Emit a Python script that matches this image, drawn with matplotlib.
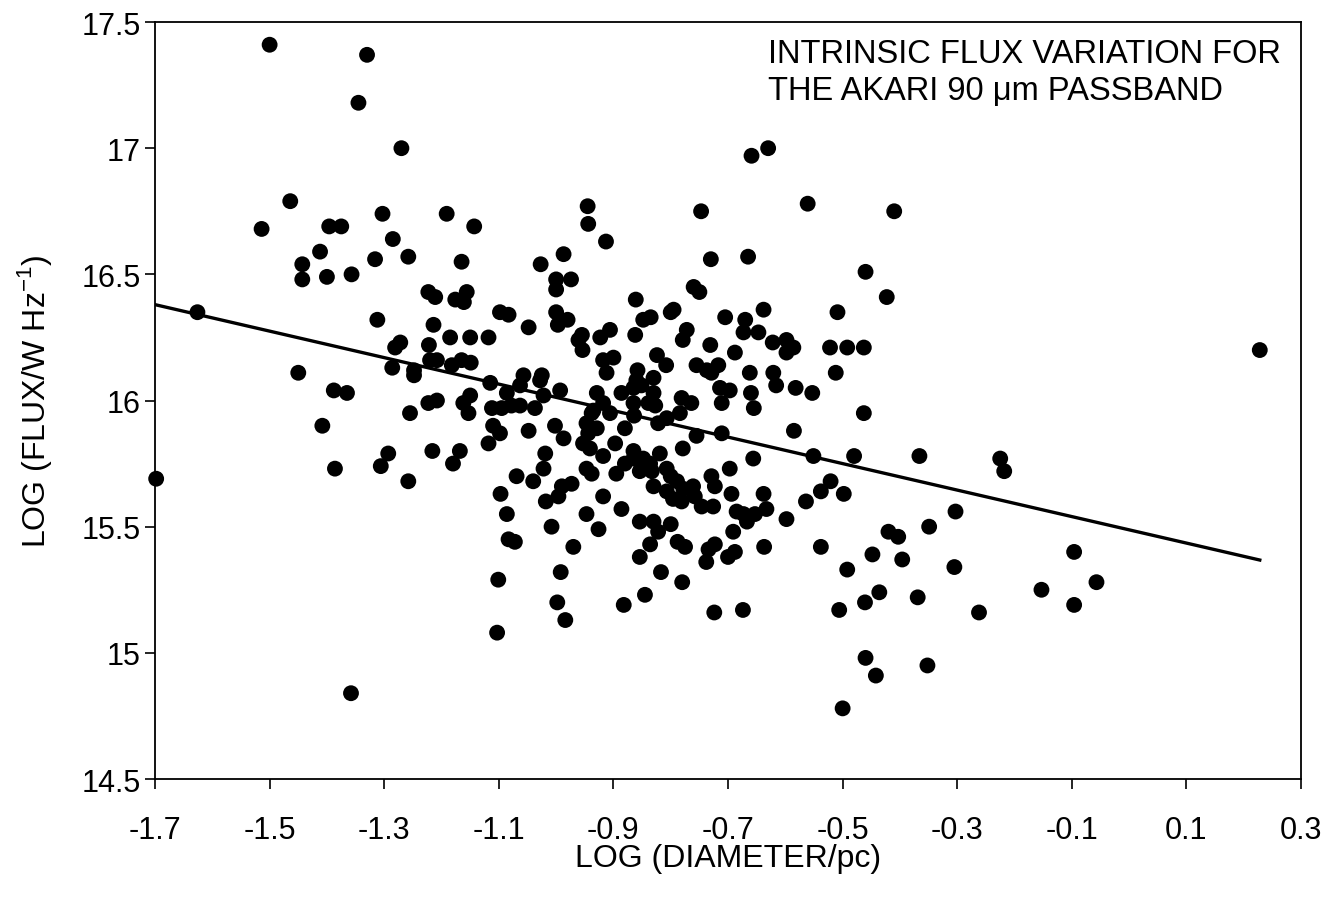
import numpy as np
import matplotlib
matplotlib.use("Agg")
import matplotlib.pyplot as plt

plt.rcParams['font.family'] = ['Liberation Sans', 'DejaVu Sans']

# log diameter (pc) and log intrinsic flux (W Hz^-1) for each source
log_diameter = [
    -1.500, -1.330, -1.345, -1.270, -1.464, -1.514, -1.396, -1.375, -1.303, -1.285,
    -1.412, -1.316, -1.258, -1.443, -1.443, -1.400, -1.357,
    -1.191, -1.143, -1.165, -0.945, -0.944, -0.913, -0.987, -1.027, -0.747, -0.730,
    -0.659, -0.630, -0.561, -0.410, -0.665, -0.460,
    0.228, -1.358,
    -1.101, -1.103, -0.992, -0.998, -0.984, -0.970, -1.072, -1.083, -0.882, -0.845,
    -0.854, -0.836, -0.817, -0.780, -0.788, -0.775, -0.734, -0.723, -0.738, -0.700,
    -0.688, -0.724, -0.674,
    -0.637, -0.538, -0.448, -0.396, -0.492, -0.305, -0.506, -0.461, -0.436, -0.369,
    -0.262, -0.460, -0.442, -0.352, -0.500,
    -0.153, -0.096, -0.057, -0.096,
    -1.698, -1.626, -1.312, -1.272, -1.281, -1.450, -1.286, -1.248, -1.248, -1.222,
    -1.214, -1.223, -1.211, -1.220, -1.208, -1.388, -1.365, -1.408, -1.255, -1.223,
    -1.208, -1.293, -1.306, -1.386, -1.258, -1.216,
    -0.423, -0.638, -0.509, -0.670, -0.673, -0.647, -0.622, -0.598, -0.586, -0.598,
    -0.522, -0.492, -0.463, -0.662, -0.621, -0.616, -0.582, -0.553, -0.512, -0.660,
    -0.655, -0.463, -0.585, -0.656, -0.551, -0.480, -0.366, -0.225, -0.218, -0.521,
    -0.538, -0.498, -0.564, -0.638, -0.633, -0.653, -0.673, -0.667, -0.598, -0.303,
    -0.349, -0.420, -0.403,
    -1.000, -1.000, -0.974, -0.760, -0.750, -0.861, -1.176, -1.156, -1.161, -1.098,
    -1.083, -1.000, -0.997, -0.980, -1.048, -0.848, -0.835, -0.800, -0.795, -0.705,
    -1.185, -1.150, -1.118, -0.955, -0.961, -0.954, -0.923, -0.906, -0.862, -0.772,
    -0.779, -0.731, -0.688, -1.182, -1.165, -1.149, -0.918, -0.900, -0.912, -0.824,
    -0.808, -0.755, -0.737, -0.717, -0.729, -0.858, -0.860, -0.830, -1.115, -1.057,
    -1.063, -1.025, -1.028, -1.022, -0.993, -1.086, -0.929, -0.935, -0.918, -0.886,
    -0.865, -0.851, -0.865, -0.830, -0.827, -0.839, -0.781, -0.764, -0.714, -0.697,
    -0.711, -1.150, -1.162, -1.153, -1.112, -1.095, -1.078, -1.063, -1.037, -0.906,
    -0.947, -0.938, -0.880, -0.864, -0.822, -0.807, -0.784, -0.755, -0.711, -1.110,
    -1.098, -1.118, -1.048, -1.002, -0.987, -0.944, -0.953, -0.941, -0.929, -0.897,
    -0.918, -1.019, -1.022, -1.168, -1.180, -1.069, -1.040, -0.947, -0.938, -0.895,
    -0.865, -0.865, -0.880, -0.848, -0.836, -0.819, -0.854, -0.833, -0.807, -0.800,
    -0.789, -0.778, -0.761, -0.807, -0.796, -0.781, -0.830, -0.779, -0.729, -0.723,
    -0.697, -0.694, -0.758, -0.746, -0.726, -0.918, -0.886, -0.947, -0.854, -0.830,
    -0.822, -0.800, -0.990, -0.973, -0.996, -1.018, -1.097, -1.086, -1.008, -0.926,
    -0.685, -0.691,
]

log_flux = [
    17.41, 17.37, 17.18, 17.00, 16.79, 16.68, 16.69, 16.69, 16.74, 16.64,
    16.59, 16.56, 16.57, 16.54, 16.48, 16.49, 16.50,
    16.74, 16.69, 16.55, 16.77, 16.70, 16.63, 16.58, 16.54, 16.75, 16.56,
    16.97, 17.00, 16.78, 16.75, 16.57, 16.51,
    16.20, 14.84,
    15.29, 15.08, 15.32, 15.20, 15.13, 15.42, 15.44, 15.45, 15.19, 15.23,
    15.38, 15.43, 15.32, 15.28, 15.44, 15.42, 15.41, 15.43, 15.36, 15.38,
    15.40, 15.16, 15.17,
    15.42, 15.42, 15.39, 15.37, 15.33, 15.34, 15.17, 15.20, 15.24, 15.22,
    15.16, 14.98, 14.91, 14.95, 14.78,
    15.25, 15.40, 15.28, 15.19,
    15.69, 16.35, 16.32, 16.23, 16.21, 16.11, 16.13, 16.12, 16.10, 16.22,
    16.30, 16.43, 16.41, 16.16, 16.16, 16.04, 16.03, 15.90, 15.95, 15.99,
    16.00, 15.79, 15.74, 15.73, 15.68, 15.80,
    16.41, 16.36, 16.35, 16.32, 16.27, 16.27, 16.23, 16.24, 16.21, 16.19,
    16.21, 16.21, 16.21, 16.11, 16.11, 16.06, 16.05, 16.03, 16.11, 16.03,
    15.97, 15.95, 15.88, 15.77, 15.78, 15.78, 15.78, 15.77, 15.72, 15.68,
    15.64, 15.63, 15.60, 15.63, 15.57, 15.55, 15.55, 15.52, 15.53, 15.56,
    15.50, 15.48, 15.46,
    16.48, 16.44, 16.48, 16.45, 16.43, 16.40, 16.40, 16.43, 16.39, 16.35,
    16.34, 16.35, 16.30, 16.32, 16.29, 16.32, 16.33, 16.35, 16.36, 16.33,
    16.25, 16.25, 16.25, 16.26, 16.24, 16.20, 16.25, 16.28, 16.26, 16.28,
    16.24, 16.22, 16.19, 16.14, 16.16, 16.15, 16.16, 16.17, 16.11, 16.18,
    16.14, 16.14, 16.12, 16.14, 16.11, 16.12, 16.08, 16.09, 16.07, 16.10,
    16.06, 16.10, 16.08, 16.02, 16.04, 16.03, 16.03, 15.96, 15.99, 16.03,
    16.05, 16.06, 15.99, 16.03, 15.98, 15.99, 16.01, 15.99, 16.05, 16.04,
    15.99, 16.02, 15.99, 15.95, 15.97, 15.97, 15.98, 15.98, 15.97, 15.95,
    15.91, 15.95, 15.89, 15.94, 15.91, 15.93, 15.95, 15.86, 15.87, 15.90,
    15.87, 15.83, 15.88, 15.90, 15.85, 15.87, 15.83, 15.81, 15.89, 15.83,
    15.78, 15.79, 15.73, 15.80, 15.75, 15.70, 15.68, 15.73, 15.71, 15.71,
    15.80, 15.77, 15.75, 15.77, 15.75, 15.79, 15.72, 15.72, 15.73, 15.70,
    15.68, 15.65, 15.66, 15.64, 15.61, 15.60, 15.66, 15.81, 15.70, 15.66,
    15.73, 15.63, 15.62, 15.58, 15.58, 15.62, 15.57, 15.55, 15.52, 15.52,
    15.48, 15.51, 15.66, 15.67, 15.62, 15.60, 15.63, 15.55, 15.50, 15.49,
    15.56, 15.48,
]

# least-squares trend line: log_flux = intercept + slope * log_diameter
fit_intercept = 15.4875
fit_slope = -0.525
fit_range = [-1.70, 0.228]

x_ticks = [-1.7, -1.5, -1.3, -1.1, -0.9, -0.7, -0.5, -0.3, -0.1, 0.1, 0.3]
y_ticks = [14.5, 15.0, 15.5, 16.0, 16.5, 17.0, 17.5]
y_tick_labels = ['14.5', '15', '15.5', '16', '16.5', '17', '17.5']

fig = plt.figure(figsize=(13.41, 9.03), dpi=100)
ax = fig.add_axes([0.1156, 0.1362, 0.8546, 0.8383])

ax.scatter(log_diameter, log_flux, s=130, c='black', edgecolors='none',
           zorder=3, clip_on=False)

fx = np.array(fit_range)
ax.plot(fx, fit_intercept + fit_slope * fx, color='black', lw=2.4, zorder=2)

ax.set_xlim(-1.7, 0.3)
ax.set_ylim(14.5, 17.5)
ax.set_xticks(x_ticks)
ax.set_xticklabels([f'{v:.1f}' for v in x_ticks])
ax.set_yticks(y_ticks)
ax.set_yticklabels(y_tick_labels)

ax.tick_params(axis='both', direction='out', length=7.5, width=1.2,
               labelsize=22, color='black')
ax.tick_params(axis='x', pad=18.5)
ax.tick_params(axis='y', pad=3)
for sp in ax.spines.values():
    sp.set_linewidth(1.3)
    sp.set_color('black')

ax.set_xlabel('LOG (DIAMETER/pc)', fontsize=23)
ax.xaxis.set_label_coords(0.5, -0.085)
ax.set_ylabel(r'LOG (FLUX/W Hz$^{\mathregular{-1}}$)', fontsize=23)
ax.yaxis.set_label_coords(-0.088, 0.5)

ax.text(0.535, 0.979, 'INTRINSIC FLUX VARIATION FOR\nTHE AKARI 90 \u03bcm PASSBAND',
        transform=ax.transAxes, ha='left', va='top', fontsize=23.5,
        linespacing=1.25)

fig.savefig('out.png', dpi=100)
